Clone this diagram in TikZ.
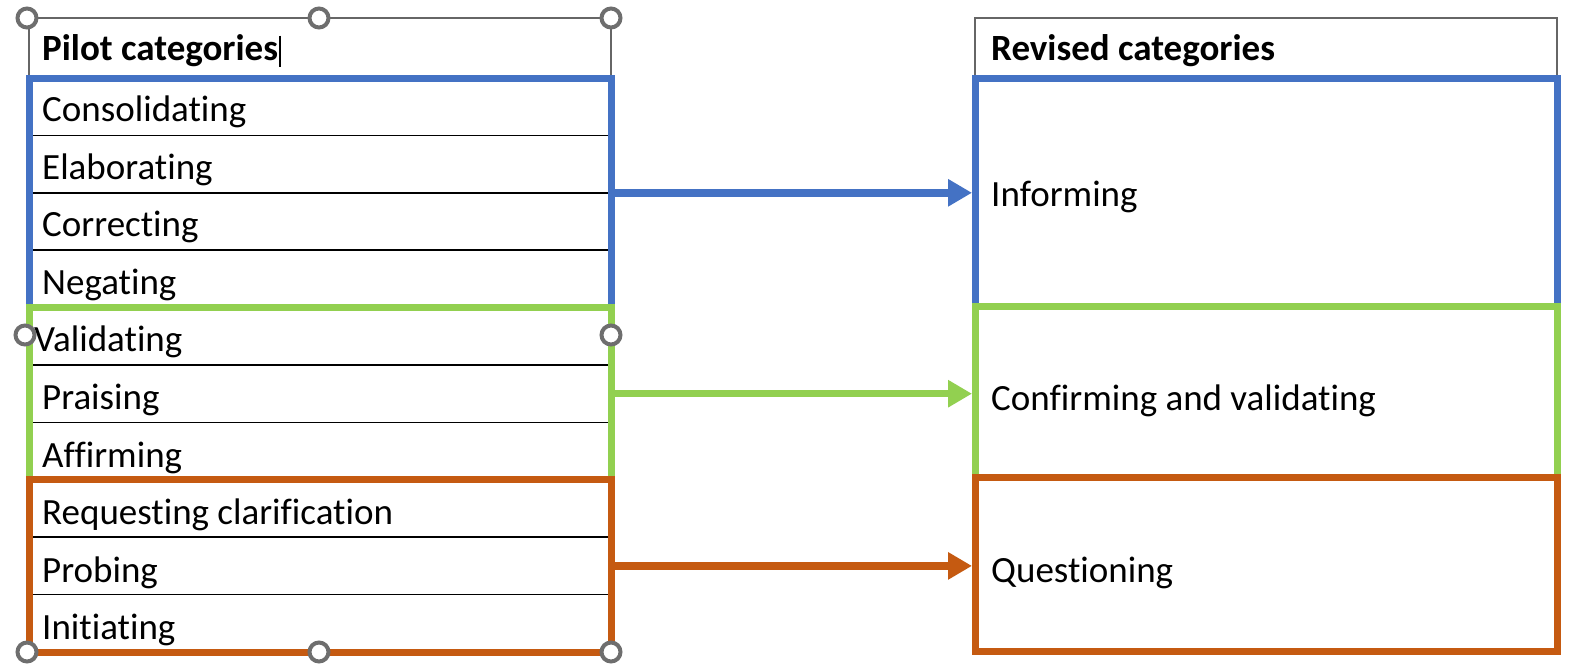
\documentclass[tikz,border=0pt]{standalone}
\usepackage{fontspec}
\setmainfont{Carlito}[Ligatures={NoCommon}]
\usetikzlibrary{arrows.meta}
\definecolor{cblue}{HTML}{4472C4}
\definecolor{cgreen}{HTML}{92D050}
\definecolor{corange}{HTML}{C55A11}
\definecolor{handlegray}{HTML}{6E6E6E}
\begin{document}
\begin{tikzpicture}[x=1pt,y=-1pt,
  font=\fontsize{37}{41}\selectfont,
  catbox/.style={draw=#1, line width=7pt, inner sep=0pt, outer sep=0pt, minimum width=582pt},
  rowline/.style={draw=black, line width=1.5pt},
  frameline/.style={draw=black!60, line width=1.5pt},
  handle/.style={circle, draw=handlegray, fill=white, line width=4pt, minimum size=19pt, inner sep=0pt},
  link/.style={draw=#1, line width=7.5pt, -{Triangle[length=24pt,width=26pt]}, shorten >=3pt},
  txt/.style={anchor=base west, inner sep=0pt}
]
\useasboundingbox (0,0) rectangle (1575,667);
% left frame (selection box) and right header box
\draw[frameline] (29,18) rectangle (611,652);
\draw[frameline] (975,18) rectangle (1557,78);
% row separators
\foreach \y in {135.4,192.8,250.2,365,422.4,537.2,594.6}
  \draw[rowline] (29,\y) -- (611,\y);
% coloured groups, left
\node[catbox=cblue, minimum height=229.6pt] (LB) at (320,192.8) {};
\node[catbox=cgreen, minimum height=172.2pt] (LG) at (320,393.7) {};
\node[catbox=corange, minimum height=172.2pt] (LO) at (320,565.9) {};
% coloured groups, right
\node[catbox=cblue, minimum height=228pt] (RB) at (1266,192) {};
\node[catbox=cgreen, minimum height=171pt] (RG) at (1266,391.5) {};
\node[catbox=corange, minimum height=174pt] (RO) at (1266,564) {};
% headers
\node[txt, font=\fontsize{37}{41}\selectfont\bfseries] (hl) at (42,60.5) {Pilot categories};
\draw[line width=1.5pt] (hl.east) ++(2,-15) coordinate (cur1) -- ++(0,31) coordinate (cur2);
\node[txt, font=\fontsize{37}{41}\selectfont\bfseries] (hr) at (991,60.5) {Revised categories};
% left items
\node[txt] (t1) at (42,121.5) {Consolidating};
\node[txt] (t2) at (42,179.1) {Elaborating};
\node[txt] (t3) at (42,236.7) {Correcting};
\node[txt] (t4) at (42,294.3) {Negating};
\node[txt] (t5) at (34,351.9) {Validating};
\node[txt] (t6) at (42,409.5) {Praising};
\node[txt] (t7) at (42,467.1) {Affirming};
\node[txt] (t8) at (42,524.7) {Requesting clarification};
\node[txt] (t9) at (42,582.3) {Probing};
\node[txt] (t10) at (42,639.9) {Initiating};
% right items
\node[txt] (r1) at (991,206) {Informing};
\node[txt] (r2) at (991,410) {Confirming and validating};
\node[txt] (r3) at (991,582) {Questioning};
% arrows
\draw[link=cblue] (LB.east) -- (LB.east -| RB.west);
\draw[link=cgreen] (LG.east) -- (LG.east -| RG.west);
\draw[link=corange] (LO.east) -- (LO.east -| RO.west);
% selection handles
\node[handle] (h1) at (27,18) {};
\node[handle] (h2) at (319,18) {};
\node[handle] (h3) at (611,18) {};
\node[handle] (h4) at (25,335) {};
\node[handle] (h5) at (611,335) {};
\node[handle] (h6) at (27,652) {};
\node[handle] (h7) at (319,652) {};
\node[handle] (h8) at (611,652) {};
\end{tikzpicture}
\end{document}
